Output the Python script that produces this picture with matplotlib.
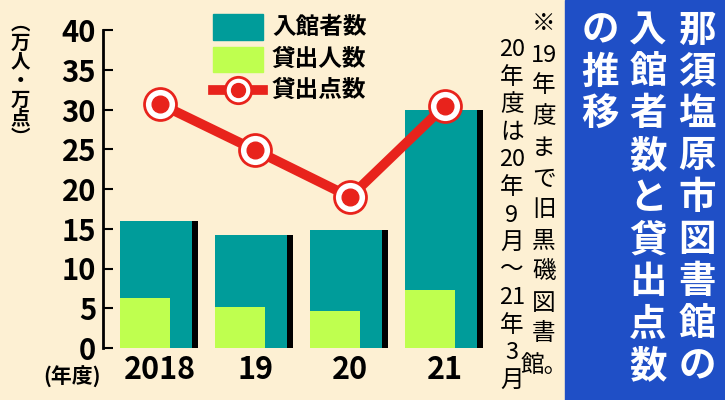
import matplotlib.pyplot as plt
from matplotlib.patches import Rectangle
from matplotlib.lines import Line2D

plt.rcParams['font.family'] = ['Noto Sans CJK JP', 'DejaVu Sans']

# data
years = ["2018", "19", "20", "21"]
visitors = [16.0, 14.2, 14.8, 30.0]      # 入館者数 (万人)
borrowers = [6.3, 5.2, 4.6, 7.3]         # 貸出人数 (万人)
loans = [30.7, 24.9, 19.0, 30.5]         # 貸出点数 (万点)
yticks = [0, 5, 10, 15, 20, 25, 30, 35, 40]

BG = "#FDF0D3"
TEAL = "#009C9A"
LIME = "#BFFF4F"
RED = "#E8231C"
BLUE = "#1F4FC6"

W, H = 725, 400
fig = plt.figure(figsize=(7.25, 4), dpi=100, facecolor=BG)

ax = fig.add_axes([103 / W, 1 - 348 / H, (485 - 103) / W, (348 - 30) / H])
ax.set_facecolor(BG)
ax.set_xlim(-0.6, 3.42)
ax.set_ylim(0, 40)

x = list(range(len(years)))
for i in x:
    ax.bar(i - 0.04, visitors[i], width=0.76, color=TEAL, zorder=2)
    ax.bar(i + 0.37, visitors[i], width=0.06, color="black", zorder=2)
    ax.bar(i - 0.42 + 0.26, borrowers[i], width=0.52, color=LIME, zorder=3)

ax.plot(x, loans, color=RED, lw=7, zorder=4, solid_capstyle="butt")
ax.plot(x, loans, "o", ms=23, mfc="white", mec=RED, mew=2, zorder=5)
ax.plot(x, loans, "o", ms=12, mfc=RED, mec=RED, zorder=6)

for s in ["top", "right", "bottom"]:
    ax.spines[s].set_visible(False)
ax.spines["left"].set_linewidth(2)
ax.set_yticks(yticks)
ax.set_yticklabels([str(v) for v in yticks], fontsize=21, fontweight="bold")
ax.tick_params(axis="y", direction="in", length=7, width=1.5, pad=5)
ax.set_xticks(x)
ax.set_xticklabels(years, fontsize=22, fontweight="bold")
ax.tick_params(axis="x", length=0, pad=4)

fig.text(72 / W, 1 - 377 / H, "(年度)", fontsize=15, fontweight="bold", ha="center", va="center")


def vtext(xc, ytop, tokens, step, size, color="black", weight="bold"):
    for k, t in enumerate(tokens):
        fig.text(xc / W, 1 - (ytop + k * step) / H, t, fontsize=size, color=color,
                 fontweight=weight, ha="center", va="center")


# y-axis unit label
vtext(20, 24, ["︵", "万", "人", "・", "万", "点", "︶"], 19, 14)

# legend
fig.patches.append(Rectangle((213 / W, 1 - 40 / H), 50 / W, 26 / H, color=TEAL, transform=fig.transFigure))
fig.patches.append(Rectangle((213 / W, 1 - 72 / H), 50 / W, 25 / H, color=LIME, transform=fig.transFigure))
fig.lines.append(Line2D([213 / W, 263 / W], [1 - 90 / H] * 2, color=RED, lw=7, transform=fig.transFigure))
fig.lines.append(Line2D([238 / W], [1 - 90 / H], marker="o", ms=19, mfc="white", mec=RED, mew=2, transform=fig.transFigure))
fig.lines.append(Line2D([238 / W], [1 - 90 / H], marker="o", ms=10, mfc=RED, mec=RED, transform=fig.transFigure))
for yy, lab in [(27, "入館者数"), (59, "貸出人数"), (90, "貸出点数")]:
    fig.text(272 / W, 1 - yy / H, lab, fontsize=17, fontweight="bold", va="center")

# note columns
vtext(544, 24, ["※", "19", "年", "度", "ま", "で", "旧", "黒", "磯", "図", "書", "館。"], 31, 17, weight="normal")
vtext(512, 50, ["20", "年", "度", "は", "20", "年", "9", "月", "～", "21", "年", "3", "月"], 27.5, 17, weight="normal")

# title panel
fig.patches.append(Rectangle((565 / W, 0), 160 / W, 1, color=BLUE, transform=fig.transFigure))
vtext(697, 30, list("那須塩原市図書館の"), 42, 27, color="white")
vtext(648, 30, list("入館者数と貸出点数"), 42, 27, color="white")
vtext(600, 30, list("の推移"), 42, 27, color="white")

fig.savefig("out.png", dpi=100, facecolor=BG)
